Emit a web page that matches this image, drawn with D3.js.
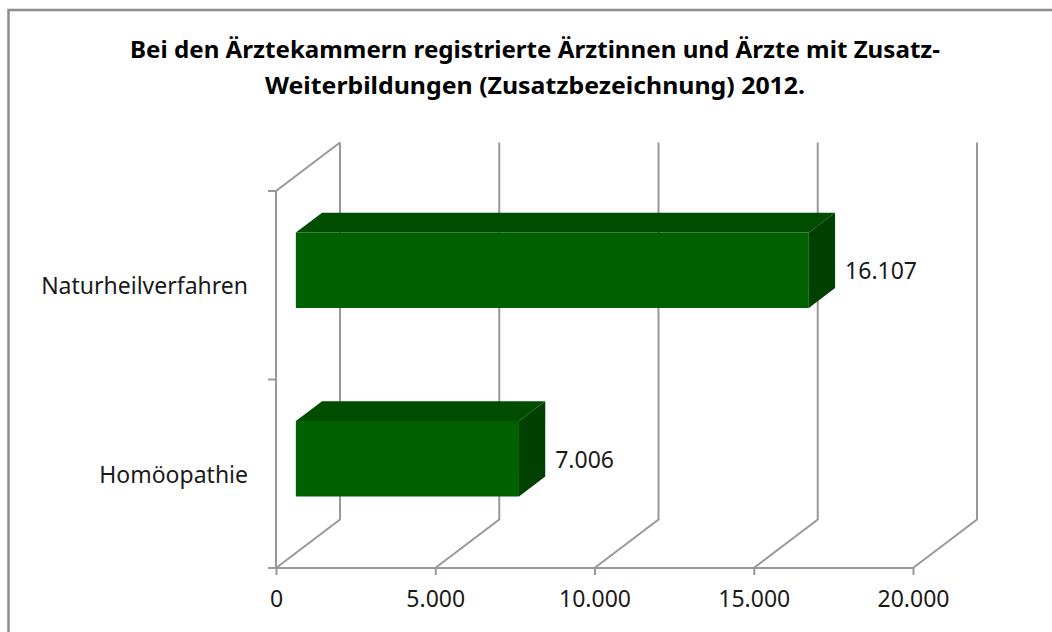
<!DOCTYPE html>
<html>
<head>
<meta charset="utf-8">
<script src="https://cdn.jsdelivr.net/npm/d3@7"></script>
<style>
  body { margin: 0; background: #fff; }
  svg text { font-family: "Noto Sans", "Open Sans", sans-serif; fill: #1a1a1a; }
</style>
</head>
<body>
<div class="chart_view"></div>
<script>
// data
var categories = ["Naturheilverfahren", "Homöopathie"];
var values = [16107, 7006];
var tick_values = [0, 5000, 10000, 15000, 20000];
var title_lines = [
  "Bei den Ärztekammern registrierte Ärztinnen und Ärzte mit Zusatz-",
  "Weiterbildungen (Zusatzbezeichnung) 2012."
];
var title_widths = [810, 540];

var width = 1052,
  height = 632;

// depth of the 3d box (back wall is shifted up-right)
var depth_dx = 64,
  depth_dy = -48.5;
var bar_front = 0.31,
  bar_back = 0.72;

var de = d3.formatLocale({
  decimal: ",",
  thousands: ".",
  grouping: [3],
  currency: ["", " €"],
});
var fmt = de.format(",.0f");

var svg = d3
  .select(".chart_view")
  .append("svg")
  .attr("width", width)
  .attr("height", height);

// chart border
svg
  .append("rect")
  .attr("x", 8.5)
  .attr("y", 10)
  .attr("width", 1100)
  .attr("height", 700)
  .style("fill", "#fff")
  .style("stroke", "#8c8c8c")
  .style("stroke-width", "2.5px");

// title
svg
  .append("g")
  .selectAll("text")
  .data(title_lines)
  .enter()
  .append("text")
  .attr("x", 535)
  .attr("y", function (d, i) {
    return 58 + i * 36;
  })
  .attr("text-anchor", "middle")
  .attr("textLength", function (d, i) {
    return title_widths[i];
  })
  .attr("lengthAdjust", "spacingAndGlyphs")
  .style("font-weight", "bold")
  .style("font-size", "23px")
  .style("fill", "#000")
  .text(function (d) {
    return d;
  });

var x = d3.scaleLinear().domain([0, 20000]).range([276, 913]);
var y = d3.scaleBand().domain(categories).range([191, 568]);

function px(v, d) {
  return x(v) + d * depth_dx;
}
function py(yy, d) {
  return yy + d * depth_dy;
}

var grid = svg
  .append("g")
  .style("fill", "none")
  .style("stroke", "#999")
  .style("stroke-width", "2px");

// floor lines + back wall gridlines
grid
  .selectAll(".gridline")
  .data(tick_values)
  .enter()
  .append("path")
  .attr("class", "gridline")
  .attr("d", function (v) {
    return (
      "M" + px(v, 0) + "," + y.range()[1] +
      "L" + px(v, 1) + "," + py(y.range()[1], 1) +
      "L" + px(v, 1) + "," + py(y.range()[0], 1)
    );
  });

// left wall: top edge and front axis line
grid
  .append("path")
  .attr("d",
    "M" + px(0, 1) + "," + py(y.range()[0], 1) +
    "L" + px(0, 0) + "," + y.range()[0] +
    "L" + px(0, 0) + "," + y.range()[1]
  );

// front floor edge
grid
  .append("path")
  .attr("d", "M" + (x(0) - 8) + "," + y.range()[1] + "H" + x(20000));

// category ticks on the left
var cat_ticks = [y.range()[0], y.range()[0] + y.step(), y.range()[1]];
grid
  .selectAll(".ctick")
  .data(cat_ticks)
  .enter()
  .append("path")
  .attr("class", "ctick")
  .attr("d", function (d) {
    return "M" + (x(0) - 8) + "," + d + "H" + x(0);
  });

// value axis labels
var axis = d3
  .axisBottom(x)
  .tickValues(tick_values)
  .tickSize(7)
  .tickPadding(16)
  .tickFormat(fmt);
var ax = svg
  .append("g")
  .attr("transform", "translate(0," + y.range()[1] + ")")
  .call(axis);
ax.select(".domain").remove();
ax.selectAll("line").style("stroke", "#999").style("stroke-width", "2px");
ax.selectAll("text")
  .style("font-size", "23px")
  .style("font-family", "'Noto Sans', 'Open Sans', sans-serif")
  .style("fill", "#1a1a1a");

// category labels
svg
  .append("g")
  .selectAll("text")
  .data(categories)
  .enter()
  .append("text")
  .attr("x", x(0) - 28)
  .attr("y", function (d) {
    return y(d) + y.bandwidth() / 2 + 1;
  })
  .attr("dy", "0.35em")
  .attr("text-anchor", "end")
  .style("font-size", "23px")
  .text(function (d) {
    return d;
  });

// bars as 3d boxes
var bar_h = y.bandwidth() * 0.4;
var bars = svg
  .selectAll(".bar")
  .data(categories.map(function (c, i) {
    return { cat: c, value: values[i] };
  }))
  .enter()
  .append("g")
  .attr("class", "bar");

function corner(v, yy, d) {
  return px(v, d) + "," + py(yy, d);
}

bars.each(function (d) {
  var g = d3.select(this);
  var y0 = y(d.cat) + (y.bandwidth() - bar_h) / 2,
    y1 = y0 + bar_h;
  // top face
  g.append("path")
    .attr("d",
      "M" + corner(0, y0, bar_front) +
      "L" + corner(d.value, y0, bar_front) +
      "L" + corner(d.value, y0, bar_back) +
      "L" + corner(0, y0, bar_back) + "Z")
    .style("fill", "#004d00");
  // right face
  g.append("path")
    .attr("d",
      "M" + corner(d.value, y0, bar_front) +
      "L" + corner(d.value, y0, bar_back) +
      "L" + corner(d.value, y1, bar_back) +
      "L" + corner(d.value, y1, bar_front) + "Z")
    .style("fill", "#004000");
  // front face
  g.append("path")
    .attr("d",
      "M" + corner(0, y0, bar_front) +
      "L" + corner(d.value, y0, bar_front) +
      "L" + corner(d.value, y1, bar_front) +
      "L" + corner(0, y1, bar_front) + "Z")
    .style("fill", "#006100");
  // value label
  g.append("text")
    .attr("x", px(d.value, bar_back) + 10)
    .attr("y", py((y0 + y1) / 2, bar_front) + 1)
    .attr("dy", "0.35em")
    .style("font-size", "23px")
    .text(fmt(d.value));
});
</script>
</body>
</html>
